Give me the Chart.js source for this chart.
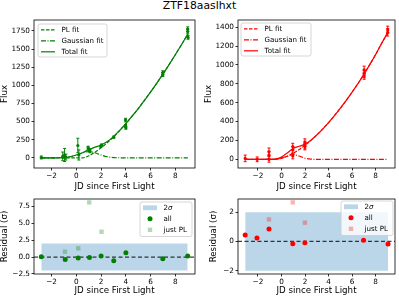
<!DOCTYPE html>
<html>
<head>
<meta charset="utf-8">
<script src="https://cdn.jsdelivr.net/npm/chart.js@4.4.0/dist/chart.umd.min.js"></script>
<style>
html, body { margin: 0; padding: 0; background: #fff; }
#wrap { position: relative; width: 399px; height: 297px; overflow: hidden; font-family: "DejaVu Sans", sans-serif; }
#wrap canvas { position: absolute; left: 0; top: 0; }
#title { position: absolute; left: 0; top: -1px; width: 399px; text-align: center; font-size: 10.8px; line-height: 13px; color: #000; }
</style>
</head>
<body>
<div id="wrap">
  <div id="title">ZTF18aaslhxt</div>
  <canvas id="fluxG" width="399" height="297"></canvas>
  <canvas id="fluxR" width="399" height="297"></canvas>
  <canvas id="resG" width="399" height="297"></canvas>
  <canvas id="resR" width="399" height="297"></canvas>
</div>
<script>
// fit curves
const gFitX = [-2.83, -2.5, -2, -1.5, -1, -0.5, 0, 0.5, 1, 1.5, 2, 2.5, 3, 3.5, 4, 4.5, 5, 5.5, 6, 6.5, 7, 7.5, 8, 8.5, 9];
const gPL = [0, 0, 0, 0, 0, 0, 0, 0, 28, 77, 139, 210, 290, 377, 472, 574, 680, 792, 909, 1031, 1157, 1289, 1425, 1563, 1708];
const gGauss = [0, 0, 0, 1, 3, 15, 39, 70, 85, 70, 39, 15, 3, 1, 0, 0, 0, 0, 0, 0, 0, 0, 0, 0, 0];
const gTotal = [0, 0, 0, 1, 3, 15, 39, 70, 113, 147, 178, 225, 293, 378, 472, 574, 680, 792, 909, 1031, 1157, 1289, 1425, 1563, 1708];

const rFitX = [-3.08, -2.5, -2, -1.5, -1, -0.5, 0, 0.5, 1, 1.5, 2, 2.5, 3, 3.5, 4, 4.5, 5, 5.5, 6, 6.5, 7, 7.5, 8, 8.5, 9.03];
const rPL = [0, 0, 0, 0, 0, 0, 11, 33, 64, 103, 149, 201, 258, 321, 390, 463, 542, 625, 713, 804, 901, 1005, 1112, 1228, 1345];
const rGauss = [0, 0, 0, 0, 0, 2, 12, 35, 50, 35, 12, 2, 0, 0, 0, 0, 0, 0, 0, 0, 0, 0, 0, 0, 0];
const rTotal = [0, 0, 0, 0, 0, 2, 23, 68, 114, 138, 161, 203, 258, 321, 390, 463, 542, 625, 713, 804, 901, 1005, 1112, 1228, 1345];

// photometry points with errors
const gPtX = [-2.83, -1.1, -0.95, -0.85, 0.12, 0.2, 0.95, 1.04, 1.1, 1.98, 2.03, 3.02, 3.97, 3.97, 4.0, 6.98, 6.98, 8.99, 8.99, 9.02];
const gPtY = [5, 20, 40, 10, 170, 40, 140, 110, 90, 160, 175, 285, 520, 440, 415, 1175, 1145, 1775, 1740, 1660];
const gPtErr = [20, 60, 90, 40, 100, 70, 20, 20, 20, 15, 15, 15, 25, 20, 20, 25, 25, 30, 30, 25];

const rPtX = [-3.08, -2.06, -1.06, -1.06, -1.06, 0.96, 0.96, 0.96, 1.99, 1.99, 1.99, 7.02, 7.02, 7.02, 9.02, 9.02];
const rPtY = [10, 0, 80, 45, 0, 135, 100, 35, 177, 152, 135, 948, 905, 884, 1372, 1347];
const rPtErr = [35, 25, 40, 40, 30, 35, 35, 30, 40, 40, 35, 40, 40, 35, 40, 40];

// residuals
const gResX = [-2.83, -0.9, 0.15, 1.06, 2.0, 3.02, 4.0, 6.98, 8.99];
const gResAll = [0.05, -0.35, -0.15, -0.05, 0.15, -0.55, 0.65, -0.25, 0.15];
const gResPLX = [-0.92, 0.15, 1.04, 2.03];
const gResPL = [0.8, 1.3, 8.1, 3.75];

const rResX = [-3.08, -2.08, -1.06, 0.96, 1.99, 6.97, 9.05];
const rResAll = [0.44, 0.23, 0.84, -0.16, -0.09, 0.08, -0.18];
const rResPLX = [-1.06, 0.96, 1.99];
const rResPL = [1.5, 2.67, 1.28];

const sigmaLo = -2, sigmaHi = 2;
const gBandX = [-2.83, 8.99];
const rBandX = [-3.08, 9.05];

// ticks
const xTicks = [-2, 0, 2, 4, 6, 8];
const gFluxTicks = [0, 250, 500, 750, 1000, 1250, 1500, 1750];
const rFluxTicks = [0, 200, 400, 600, 800, 1000, 1200, 1400];
const gResTicks = [-2.5, 0, 2.5, 5, 7.5];
const rResTicks = [-2, 0, 2];

const GREEN = '#008000', GREEN_L = 'rgba(0,128,0,0.3)';
const RED = '#ff0000', RED_L = 'rgba(255,0,0,0.3)';
const BAND = 'rgba(31,119,180,0.3)';
const DASH = [3.5, 1.5], DASHDOT = [5, 1.5, 1, 1.5];

Chart.defaults.font.family = '"DejaVu Sans", sans-serif';
Chart.defaults.color = '#000';

const pts = (xs, ys) => xs.map((x, i) => ({ x: x, y: ys[i] }));
const minus = s => s.replace('-', '\u2212');

// box around the plot area
const frame = {
    id: 'frame',
    afterDatasetsDraw(chart) {
        const a = chart.chartArea, ctx = chart.ctx;
        ctx.save();
        ctx.strokeStyle = '#000';
        ctx.lineWidth = 0.8;
        ctx.strokeRect(a.left, a.top, a.right - a.left, a.bottom - a.top);
        ctx.restore();
    }
};

// vertical error bars with caps
const errorBars = {
    id: 'errorBars',
    afterDatasetsDraw(chart) {
        const ctx = chart.ctx, ys = chart.scales.y;
        chart.data.datasets.forEach((ds, i) => {
            if (!ds.errors) return;
            const meta = chart.getDatasetMeta(i);
            ctx.save();
            ctx.strokeStyle = ds.borderColor;
            ctx.lineWidth = 1;
            meta.data.forEach((pt, j) => {
                const v = ds.data[j].y, e = ds.errors[j];
                const y1 = ys.getPixelForValue(v - e), y2 = ys.getPixelForValue(v + e);
                ctx.beginPath();
                ctx.moveTo(pt.x, y1); ctx.lineTo(pt.x, y2);
                ctx.moveTo(pt.x - 1.5, y1); ctx.lineTo(pt.x + 1.5, y1);
                ctx.moveTo(pt.x - 1.5, y2); ctx.lineTo(pt.x + 1.5, y2);
                ctx.stroke();
            });
            ctx.restore();
        });
    }
};

// matplotlib-like legend inside the axes
const boxLegend = {
    id: 'boxLegend',
    afterDraw(chart, args, opts) {
        if (!opts.items) return;
        const a = chart.chartArea, ctx = chart.ctx;
        const x0 = opts.side === 'right' ? a.right - opts.gap - opts.width : a.left + opts.gap;
        const y0 = a.top + opts.gap;
        ctx.save();
        ctx.beginPath();
        ctx.roundRect(x0, y0, opts.width, opts.height, 2);
        ctx.fillStyle = 'rgba(255,255,255,0.8)';
        ctx.fill();
        ctx.strokeStyle = '#cccccc';
        ctx.lineWidth = 0.8;
        ctx.stroke();
        ctx.font = '7.1px "DejaVu Sans"';
        ctx.textBaseline = 'middle';
        opts.items.forEach((it, i) => {
            const y = y0 + 5.8 + i * 11;
            ctx.setLineDash([]);
            if (it.type === 'line') {
                ctx.strokeStyle = it.color;
                ctx.lineWidth = 1.2;
                ctx.setLineDash(it.dash);
                ctx.beginPath();
                ctx.moveTo(x0 + 3, y); ctx.lineTo(x0 + 17, y);
                ctx.stroke();
                ctx.setLineDash([]);
            } else if (it.type === 'patch') {
                ctx.fillStyle = it.color;
                ctx.fillRect(x0 + 3, y - 2.4, 14, 4.8);
            } else if (it.type === 'circle') {
                ctx.fillStyle = it.color;
                ctx.beginPath();
                ctx.arc(x0 + 10, y, 2.5, 0, Math.PI * 2);
                ctx.fill();
            } else if (it.type === 'square') {
                ctx.fillStyle = it.color;
                ctx.fillRect(x0 + 7.8, y - 2.2, 4.4, 4.4);
            }
            ctx.fillStyle = '#000';
            ctx.fillText(it.label, x0 + 23.5, y);
            if (it.ital) {
                const w = ctx.measureText(it.label).width;
                ctx.font = 'italic 7.1px "DejaVu Sans"';
                ctx.fillText(it.ital, x0 + 23.5 + w, y);
                ctx.font = '7.1px "DejaVu Sans"';
            }
        });
        ctx.restore();
    }
};

function makeChart(id, p) {
    const pad = {
        left: Math.max(0, p.yTitleX - 4.35),
        top: p.area.top,
        right: 399 - p.area.right,
        bottom: 297 - (p.xTitleY + 4.35)
    };
    const yW = p.area.left - pad.left;
    const xH = p.xTitleY + 4.35 - p.area.bottom;
    const tickFont = { size: 7.3 };
    const titleFont = { size: 8.7, lineHeight: 1 };
    const grid = { display: true, drawOnChartArea: false, drawTicks: true, tickLength: 2.5, color: '#000', lineWidth: 0.8 };
    return new Chart(document.getElementById(id), {
        type: 'scatter',
        data: { datasets: p.datasets },
        options: {
            responsive: false,
            animation: false,
            devicePixelRatio: 1,
            layout: { padding: pad },
            plugins: {
                legend: { display: false },
                tooltip: { enabled: false },
                boxLegend: p.legend
            },
            scales: {
                x: {
                    type: 'linear', min: p.xMin, max: p.xMax,
                    afterFit: s => { s.height = xH; },
                    afterBuildTicks: s => { s.ticks = xTicks.map(v => ({ value: v })); },
                    ticks: { font: tickFont, color: '#000', padding: 1, maxRotation: 0, callback: v => minus(String(v)) },
                    grid: grid,
                    border: { display: false },
                    title: { display: true, text: 'JD since First Light', font: titleFont, color: '#000', padding: 0 }
                },
                y: {
                    type: 'linear', min: p.yMin, max: p.yMax,
                    afterFit: s => { s.width = yW; },
                    afterBuildTicks: s => { s.ticks = p.yTicks.map(v => ({ value: v })); },
                    ticks: { font: tickFont, color: '#000', padding: 1.5, callback: v => minus(p.yFmt(v)) },
                    grid: grid,
                    border: { display: false },
                    title: { display: true, text: p.yLabel, font: titleFont, color: '#000', padding: 0 }
                }
            }
        },
        plugins: [frame, errorBars, boxLegend]
    });
}

function fluxSets(color, fx, pl, ga, tot, px, py, pe) {
    const line = (data, dash, order) => ({
        type: 'line', data: pts(fx, data), borderColor: color, borderWidth: 1.2, borderDash: dash,
        pointRadius: 0, fill: false, cubicInterpolationMode: 'monotone', order: order
    });
    return [
        { data: pts(px, py), errors: pe, backgroundColor: color, borderColor: color, pointRadius: 1.6, borderWidth: 0, order: 4 },
        line(pl, DASH, 3),
        line(ga, DASHDOT, 2),
        line(tot, [], 1)
    ];
}

function resSets(color, light, bandX, xMin, xMax, ax, ay, plx, ply) {
    return [
        { type: 'line', data: pts(bandX, [sigmaHi, sigmaHi]), fill: { value: sigmaLo }, backgroundColor: BAND,
          borderWidth: 0, pointRadius: 0, order: 4 },
        { type: 'line', data: pts([xMin, xMax], [0, 0]), borderColor: 'rgba(0,0,0,0.75)', borderWidth: 1.4,
          borderDash: [4, 2.5], pointRadius: 0, fill: false, order: 3 },
        { data: pts(plx, ply), pointStyle: 'rect', pointRadius: 3.1, backgroundColor: light, borderWidth: 0, order: 2 },
        { data: pts(ax, ay), pointRadius: 2.5, backgroundColor: color, borderWidth: 0, order: 1 }
    ];
}

const fitLegend = color => [
    { type: 'line', color: color, dash: DASH, label: 'PL fit' },
    { type: 'line', color: color, dash: DASHDOT, label: 'Gaussian fit' },
    { type: 'line', color: color, dash: [], label: 'Total fit' }
];
const resLegend = (color, light) => [
    { type: 'patch', color: BAND, label: '2', ital: '\u03c3' },
    { type: 'circle', color: color, label: 'all' },
    { type: 'square', color: light, label: 'just PL' }
];

const LX = [-3.42, 9.58], RX = [-3.69, 9.64];

makeChart('fluxG', {
    area: { left: 34, right: 195, top: 20, bottom: 168 },
    yTitleX: 4.4, xTitleY: 186.3,
    xMin: LX[0], xMax: LX[1], yMin: -140, yMax: 1900, yTicks: gFluxTicks, yFmt: v => String(v), yLabel: 'Flux',
    datasets: fluxSets(GREEN, gFitX, gPL, gGauss, gTotal, gPtX, gPtY, gPtErr),
    legend: { side: 'left', gap: 4, width: 69, height: 33, items: fitLegend(GREEN) }
});

makeChart('fluxR', {
    area: { left: 238, right: 398, top: 20, bottom: 168 },
    yTitleX: 208.5, xTitleY: 186.3,
    xMin: RX[0], xMax: RX[1], yMin: -92, yMax: 1477, yTicks: rFluxTicks, yFmt: v => String(v), yLabel: 'Flux',
    datasets: fluxSets(RED, rFitX, rPL, rGauss, rTotal, rPtX, rPtY, rPtErr),
    legend: { side: 'left', gap: 3, width: 70, height: 33, items: fitLegend(RED) }
});

makeChart('resG', {
    area: { left: 34, right: 195, top: 199, bottom: 274 },
    yTitleX: 4.5, xTitleY: 291,
    xMin: LX[0], xMax: LX[1], yMin: -2.505, yMax: 8.605, yTicks: gResTicks, yFmt: v => v.toFixed(1), yLabel: 'Residual (\u03c3)',
    datasets: resSets(GREEN, GREEN_L, gBandX, LX[0], LX[1], gResX, gResAll, gResPLX, gResPL),
    legend: { side: 'right', gap: 3, width: 52, height: 34.5, items: resLegend(GREEN, GREEN_L) }
});

makeChart('resR', {
    area: { left: 238, right: 398, top: 199, bottom: 274 },
    yTitleX: 214, xTitleY: 291,
    xMin: RX[0], xMax: RX[1], yMin: -2.23, yMax: 2.9, yTicks: rResTicks, yFmt: v => String(v), yLabel: 'Residual (\u03c3)',
    datasets: resSets(RED, RED_L, rBandX, RX[0], RX[1], rResX, rResAll, rResPLX, rResPL),
    legend: { side: 'right', gap: 2, width: 52, height: 34.5, items: resLegend(RED, RED_L) }
});
</script>
</body>
</html>
